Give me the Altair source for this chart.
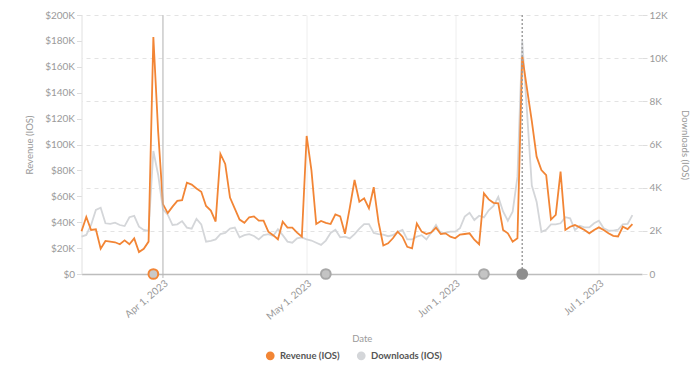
import altair as alt
import pandas as pd

# ---------------- data ----------------
start_date = "2023-03-15"
revenue_k = [
    33, 44, 34, 34.5, 19.5, 25.5, 25, 24.5, 23, 26,
    23, 27.5, 17, 19.5, 25, 183, 110, 54, 47, 52,
    56.5, 57, 70.5, 69, 66, 63.5, 52.5, 49, 40.5, 92.7,
    85, 59, 50.5, 42, 39.5, 43.8, 44.5, 41.2, 41.2, 32.7,
    30, 26.8, 40.4, 35.8, 35.8, 32, 28.8, 106.6, 80, 38.6,
    41, 39.5, 38.6, 46, 44.5, 31, 51, 72.6, 55.8, 58.4,
    50.7, 67, 40, 22, 23.7, 27.6, 32.7, 28.8, 21, 19.8,
    39, 32.7, 30.9, 32, 35.8, 30.9, 31.4, 28.8, 27.6, 30.4,
    30.9, 31.4, 26.5, 23, 62.3, 57.6, 55, 54.6, 34, 31.4,
    25, 27.6, 168, 143, 118, 90.6, 80.3, 76.4, 42, 45.6,
    79, 34, 36.5, 37.8, 36, 34, 31.4, 34, 36, 34,
    31.5, 29.5, 29, 36.5, 34.7, 38.6,
]
downloads_k = [
    1.73, 1.81, 2.27, 2.97, 3.07, 2.35, 2.32, 2.38, 2.27, 2.22,
    2.63, 2.69, 2.19, 2.04, 2.0, 5.7, 4.6, 3.0, 2.75, 2.27,
    2.3, 2.45, 2.15, 2.1, 2.55, 2.3, 1.5, 1.54, 1.6, 1.85,
    1.9, 2.1, 2.15, 1.7, 1.8, 1.85, 1.76, 1.6, 1.8, 1.85,
    1.76, 2.07, 1.8, 1.5, 1.45, 1.65, 1.7, 1.6, 1.55, 1.45,
    1.35, 1.55, 1.9, 2.05, 1.7, 1.73, 1.65, 1.85, 2.1, 2.31,
    2.31, 1.9, 1.85, 1.82, 1.75, 1.8, 1.95, 2.04, 1.6, 1.6,
    1.73, 1.8, 1.6, 1.92, 2.27, 1.88, 1.92, 1.96, 1.96, 2.12,
    2.66, 2.84, 2.5, 2.7, 2.62, 2.95, 3.15, 3.58, 2.9, 2.47,
    2.89, 4.5, 10.8, 7.5, 4.1, 3.35, 1.95, 2.05, 2.3, 2.3,
    2.35, 2.63, 2.58, 2.04, 2.23, 2.16, 2.16, 2.35, 2.47, 2.12,
    2.01, 2.01, 2.05, 2.3, 2.32, 2.73,
]
series_names = ["Revenue (IOS)", "Downloads (IOS)"]
series_colors = ["#F28535", "#D4D6D9"]

event_dates = ["2023-03-30", "2023-05-05", "2023-06-07", "2023-06-15"]
event_fill = ["#C9C9C9", "#C4C4C4", "#C4C4C4", "#8E8E8E"]
event_stroke = ["#F28535", "#A8A8A8", "#A8A8A8", "#8E8E8E"]
solid_rule_date = ["2023-04-01"]
dotted_rule_date = ["2023-06-15"]
month_ticks = [(2023, 4, 1), (2023, 5, 1), (2023, 6, 1), (2023, 7, 1)]
left_ticks = [0, 20000, 40000, 60000, 80000, 100000, 120000, 140000, 160000, 180000, 200000]
right_ticks = [0, 2000, 4000, 6000, 8000, 10000, 12000]

# ---------------- frames ----------------
dates = pd.date_range(start_date, periods=len(revenue_k), freq="D")
df = pd.concat([
    pd.DataFrame({"Date": dates, "value": [v * 1000 for v in revenue_k], "series": series_names[0]}),
    pd.DataFrame({"Date": dates, "value": [v * 1000 for v in downloads_k], "series": series_names[1]}),
])
events = pd.DataFrame({"Date": pd.to_datetime(event_dates), "fill": event_fill, "stroke": event_stroke})
solid_rule = pd.DataFrame({"Date": pd.to_datetime(solid_rule_date)})
dotted_rule = pd.DataFrame({"Date": pd.to_datetime(dotted_rule_date)})

W, H = 560.5, 259
x_dom = [alt.DateTime(year=2023, month=3, date=15), alt.DateTime(year=2023, month=7, date=10)]
x_scale = alt.Scale(domain=x_dom)
x_axis = alt.Axis(
    values=[alt.DateTime(year=y, month=m, date=d) for (y, m, d) in month_ticks],
    format="%b %-d, %Y", labelAngle=-40, title="Date", grid=True, gridColor="#EEEEEE",
    ticks=False, domainColor="#BDBDBD", domainWidth=1.5, labelPadding=4, titlePadding=12,
)
x_enc = alt.X("Date:T", scale=x_scale, axis=x_axis)
x_plain = alt.X("Date:T", scale=x_scale)

color = alt.Color("series:N", scale=alt.Scale(domain=series_names, range=series_colors),
                  legend=alt.Legend(title=None, orient="none", direction="horizontal",
                                    legendX=184, legendY=336, symbolType="circle",
                                    symbolSize=18, symbolStrokeWidth=4.5,
                                    labelFontWeight="bold", labelFontSize=9.5,
                                    labelColor="#555555", columnPadding=9, labelOffset=5))

base = alt.Chart(df)
dl_line = base.transform_filter(alt.datum.series == series_names[1]).mark_line(strokeWidth=1.8).encode(
    x=x_enc,
    y=alt.Y("value:Q", scale=alt.Scale(domain=[0, 12000], nice=False),
            axis=alt.Axis(orient="right", values=right_ticks, title="Downloads (IOS)",
                          labelExpr="datum.value == 0 ? '0' : (datum.value / 1000) + 'K'",
                          gridDash=[4, 4], gridColor="#E3E3E3", domain=False,
                          tickColor="#DDDDDD", tickSize=5, titlePadding=12)),
    color=color,
)
rev_line = base.transform_filter(alt.datum.series == series_names[0]).mark_line(strokeWidth=1.8).encode(
    x=x_plain,
    y=alt.Y("value:Q", scale=alt.Scale(domain=[0, 200000], nice=False),
            axis=alt.Axis(orient="left", values=left_ticks, title="Revenue (IOS)",
                          labelExpr="datum.value == 0 ? '$0' : '$' + (datum.value / 1000) + 'K'",
                          gridDash=[4, 4], gridColor="#E3E3E3", domainColor="#E0E0E0",
                          tickColor="#DDDDDD", tickSize=5, titlePadding=10)),
    color=color,
)
rule_solid = alt.Chart(solid_rule).mark_rule(color="#B8B8B8", strokeWidth=1).encode(
    x=x_plain, y=alt.value(0), y2=alt.value(H + 4))
rule_dotted = alt.Chart(dotted_rule).mark_rule(color="#A0A0A0", strokeWidth=1.5, strokeDash=[2, 2]).encode(
    x=x_plain, y=alt.value(0), y2=alt.value(H))
pts = alt.Chart(events).mark_point(filled=True, size=95, strokeWidth=2, opacity=1).encode(
    x=x_plain, y=alt.value(H),
    fill=alt.Fill("fill:N", scale=None),
    stroke=alt.Stroke("stroke:N", scale=None),
)

chart = alt.layer(dl_line, rev_line, rule_solid, rule_dotted, pts).resolve_scale(
    y="independent"
).properties(
    width=W, height=H,
    autosize=alt.AutoSizeParams(type="none"),
    padding={"left": 73.5, "top": 7, "right": 49, "bottom": 89},
).configure_view(stroke=None).configure_axis(
    labelFont="Lato", titleFont="Lato", labelColor="#9A9A9A", titleColor="#9A9A9A",
    labelFontSize=10, titleFontSize=9.5, titleFontWeight="normal",
).configure_legend(labelFont="Lato")

chart.save("out.html", embed_options={"renderer": "svg", "actions": False})
